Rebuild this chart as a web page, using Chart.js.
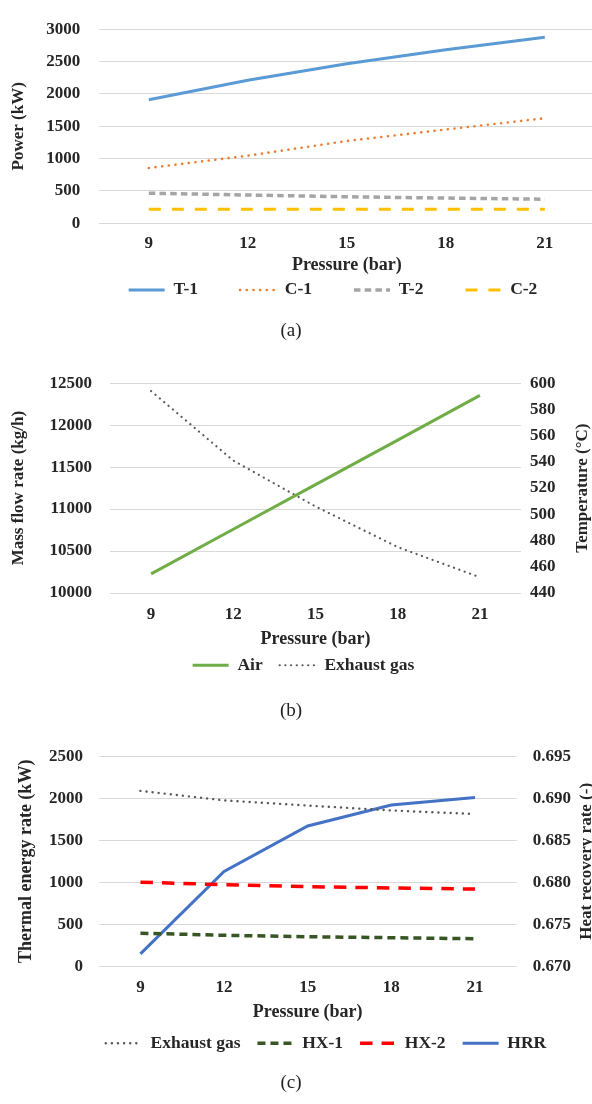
<!DOCTYPE html>
<html>
<head>
<meta charset="utf-8">
<script src="https://cdn.jsdelivr.net/npm/chart.js@4.4.0/dist/chart.umd.min.js"></script>
<style>
  html, body { margin: 0; padding: 0; background: #fff; }
  body { position: relative; width: 592px; height: 1104px; overflow: hidden; }
  .panel { position: absolute; left: 0; }
  .panel canvas { display: block; }
  .cap { position: absolute; left: 0; width: 582px; text-align: center; font: 19px "Liberation Serif", serif; line-height: 22px; color: #222; }
</style>
</head>
<body>
<div class="panel" style="top:0px"><canvas id="chart-a" width="666" height="348"></canvas></div>
<div class="cap" style="top:319px">(a)</div>
<div class="panel" style="top:355px"><canvas id="chart-b" width="607" height="329"></canvas></div>
<div class="cap" style="top:699px">(b)</div>
<div class="panel" style="top:730px"><canvas id="chart-c" width="652" height="332"></canvas></div>
<div class="cap" style="top:1071px">(c)</div>
<script>
const pressure = ['9', '12', '15', '18', '21'];

// (a) power
const powerT1 = [1910, 2210, 2465, 2682, 2875];
const powerC1 = [855, 1045, 1272, 1450, 1624];
const powerT2 = [465, 437, 410, 390, 372];
const powerC2 = [216, 216, 216, 216, 216];

// (b) mass flow and exhaust temperature
const airFlow = [10228, 10760, 11292, 11822, 12355];
const exhaustTemp = [594, 541, 506, 475, 452];

// (c) thermal energy rates and heat recovery rate
const exhaustEnergy = [2088, 1975, 1913, 1855, 1812];
const hx1Energy = [396, 371, 354, 342, 330];
const hx2Energy = [1003, 972, 950, 933, 921];
const hrr = [0.6715, 0.6813, 0.6867, 0.6892, 0.6901];

const TEXT = '#262626';
const GRID = '#d9d9d9';
Chart.defaults.font.family = '"Liberation Serif", "Times New Roman", serif';
Chart.defaults.font.weight = 'bold';
Chart.defaults.color = TEXT;

// right-hand axis title, rotated like the spreadsheet original
const sideTitle = {
  id: 'sideTitle',
  afterLayout(chart, args, opts) {
    // legend padding also sets the item gap, so pull the legend back up when needed
    if (opts.legendShift && chart.legend) {
      chart.legend.top += opts.legendShift;
      chart.legend.bottom += opts.legendShift;
    }
  },
  afterDraw(chart, args, opts) {
    if (!opts.text) return;
    const { ctx, chartArea } = chart;
    ctx.save();
    ctx.translate(opts.x, (chartArea.top + chartArea.bottom) / 2);
    ctx.rotate(-Math.PI / 2);
    ctx.font = 'bold ' + opts.size + 'px "Liberation Serif", serif';
    ctx.fillStyle = TEXT;
    ctx.textAlign = 'center';
    ctx.textBaseline = 'middle';
    ctx.fillText(opts.text, 0, 0);
    ctx.restore();
  }
};

function line(label, data, color, width, dash, cap, axis) {
  return {
    label, data,
    borderColor: color,
    backgroundColor: color,
    borderWidth: width,
    borderDash: dash,
    borderCapStyle: cap,
    pointRadius: 0,
    pointHoverRadius: 0,
    pointStyle: 'line',
    tension: 0,
    yAxisID: axis || 'y'
  };
}

function legendLabels(chart) {
  return chart.data.datasets.map((ds, i) => ({
    text: ds.label,
    datasetIndex: i,
    pointStyle: 'line',
    strokeStyle: ds.borderColor,
    fillStyle: ds.borderColor,
    lineWidth: ds.borderWidth,
    lineDash: ds.borderDash,
    lineCap: ds.borderCapStyle,
    fontColor: TEXT,
    hidden: false
  }));
}

function buildOptions(p) {
  const scales = {
    x: {
      offset: true,
      grid: { display: false, drawTicks: false },
      border: { display: false },
      ticks: { font: { size: 17 }, padding: p.xTickPad, maxRotation: 0 },
      title: { display: true, text: 'Pressure (bar)', font: { size: 18 }, padding: { top: 0, bottom: p.xTitleBottom } },
      afterFit: s => { s.height = p.xHeight; }
    },
    y: {
      min: p.yMin, max: p.yMax,
      grid: { color: GRID, lineWidth: 1, drawTicks: false },
      border: { display: false },
      ticks: { stepSize: p.yStep, font: { size: 17 }, padding: p.yTickPad, callback: v => String(v) },
      title: { display: true, text: p.yTitle, font: { size: p.yTitleSize }, padding: { top: p.yTitlePad, bottom: 0 } },
      afterFit: s => { s.width = p.yWidth; }
    },
    y1: {
      position: 'right',
      min: p.y1Min, max: p.y1Max,
      display: true,
      grid: { display: false, drawTicks: false },
      border: { display: false },
      ticks: { display: p.y1Min !== undefined, stepSize: p.y1Step, font: { size: 17 }, padding: p.y1TickPad, callback: p.y1Format || (v => String(v)) },
      afterFit: s => { s.width = p.y1Width; }
    }
  };
  return {
    responsive: false,
    devicePixelRatio: 1,
    animation: false,
    events: [],
    layout: { padding: { top: p.top, left: 0, right: 0, bottom: 0 } },
    scales,
    plugins: {
      tooltip: { enabled: false },
      legend: {
        position: 'bottom',
        labels: {
          usePointStyle: true,
          pointStyleWidth: 36,
          padding: p.legendPad,
          font: { size: 17.5 },
          color: TEXT,
          generateLabels: legendLabels
        }
      },
      sideTitle: { text: p.sideText, x: p.sideX, size: 17, legendShift: p.legendShift || 0 }
    }
  };
}

new Chart(document.getElementById('chart-a'), {
  type: 'line',
  data: {
    labels: pressure,
    datasets: [
      line('T-1', powerT1, '#5b9bd5', 3, [], 'butt'),
      line('C-1', powerC1, '#ed7d31', 2.6, [0.1, 6.6], 'round'),
      line('T-2', powerT2, '#a5a5a5', 3.5, [6.5, 4.2], 'butt'),
      line('C-2', powerC2, '#ffc000', 3, [12, 11], 'butt')
    ]
  },
  options: buildOptions({
    top: 15.3, xTickPad: 10.5, xTitleBottom: 2, xHeight: 55.2,
    yMin: 0, yMax: 3000, yStep: 500, yTickPad: 19, yTitle: 'Power (kW)', yTitleSize: 17, yTitlePad: 8.2, yWidth: 99.3,
    y1Width: 71.7, legendPad: 42, legendShift: -39.3
  }),
  plugins: [sideTitle]
});

new Chart(document.getElementById('chart-b'), {
  type: 'line',
  data: {
    labels: pressure,
    datasets: [
      line('Air', airFlow, '#70ad47', 3, [], 'butt'),
      line('Exhaust gas', exhaustTemp, '#595959', 2.2, [0.1, 5.6], 'round', 'y1')
    ]
  },
  options: buildOptions({
    top: 16.7, xTickPad: 11, xTitleBottom: -10.3, xHeight: 46.5,
    yMin: 10000, yMax: 12500, yStep: 500, yTickPad: 18, yTitle: 'Mass flow rate (kg/h)', yTitleSize: 17, yTitlePad: 8.2, yWidth: 110,
    y1Min: 440, y1Max: 600, y1Step: 20, y1TickPad: 9, y1Width: 86,
    legendPad: 17, sideText: 'Temperature (°C)', sideX: 583
  }),
  plugins: [sideTitle]
});

new Chart(document.getElementById('chart-c'), {
  type: 'line',
  data: {
    labels: pressure,
    datasets: [
      line('Exhaust gas', exhaustEnergy, '#595959', 2.4, [0.1, 6], 'round'),
      line('HX-1', hx1Energy, '#375623', 3.5, [8, 5], 'butt'),
      line('HX-2', hx2Energy, '#ff0000', 3.5, [12.5, 9], 'butt'),
      line('HRR', hrr, '#4472c4', 3, [], 'butt', 'y1')
    ]
  },
  options: buildOptions({
    top: 21.7, xTickPad: 11, xTitleBottom: -6, xHeight: 51,
    yMin: 0, yMax: 2500, yStep: 500, yTickPad: 15.6, yTitle: 'Thermal energy rate (kW)', yTitleSize: 18, yTitlePad: 15.2, yWidth: 98.6,
    y1Min: 0.670, y1Max: 0.695, y1Step: 0.005, y1TickPad: 16, y1Width: 135.2, y1Format: v => v.toFixed(3),
    legendPad: 17, sideText: 'Heat recovery rate (-)', sideX: 587
  }),
  plugins: [sideTitle]
});
</script>
</body>
</html>
